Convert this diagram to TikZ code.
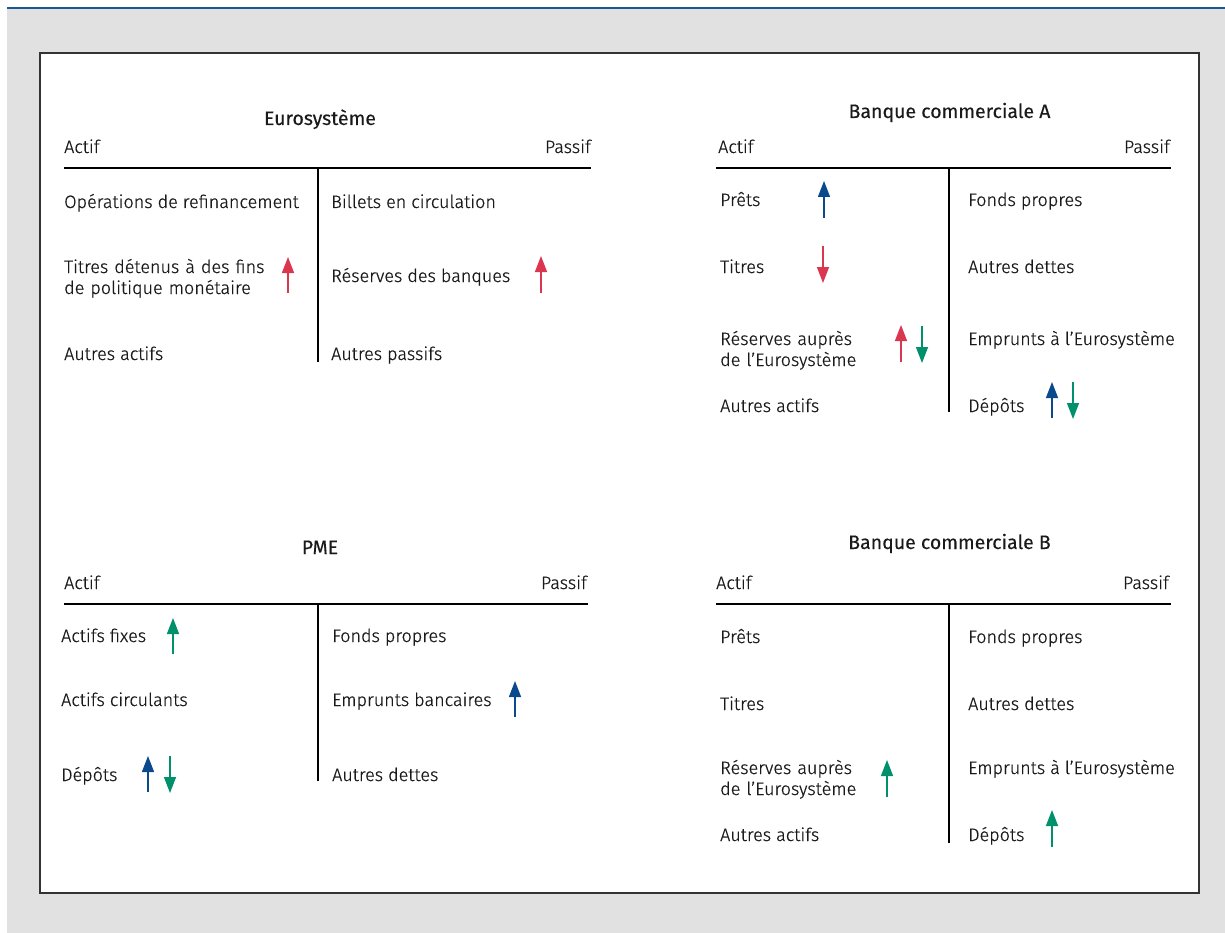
\documentclass[tikz,border=0pt]{standalone}
\usepackage{fontspec}
\setmainfont{Fira Sans Light}[UprightFeatures={FakeBold=0.6}, BoldFont={Fira Sans}, BoldFeatures={FakeBold=0.2}]
\usetikzlibrary{arrows.meta}
\definecolor{bg}{HTML}{E1E1E1}
\definecolor{topblue}{HTML}{1B5797}
\definecolor{ink}{HTML}{1A1A1A}
\definecolor{frame}{HTML}{333333}
\definecolor{ablue}{HTML}{0A4A8C}
\definecolor{ared}{HTML}{DB3650}
\definecolor{agreen}{HTML}{00906B}
\tikzset{
  txt/.style={inner sep=0pt, font=\fontsize{18}{21}\selectfont, text=ink, anchor=base west},
  txtr/.style={txt, anchor=base east},
  ttl/.style={inner sep=0pt, font=\fontsize{19.5}{23}\selectfont\bfseries, text=ink, anchor=base},
  two/.style={txt, align=left, text width=220pt},
  rule/.style={draw=black, line width=1.4pt},
  arr/.style={line width=1.4pt, -{Triangle[width=12pt,length=16pt]}},
}
\begin{document}
\begin{tikzpicture}[x=1pt,y=-1pt]
\useasboundingbox (0,0) rectangle (1225,933);
\fill[bg] (7,9) rectangle (1225,933);
\draw[topblue, line width=2.4pt] (7,8) -- (1225,8);
\draw[frame, fill=white, line width=1.6pt] (40,53) rectangle (1199,893);

% ---------- Eurosysteme ----------
\node[ttl] (eT) at (320,125) {Eurosystème};
\node[txt] (eA) at (64,153) {Actif};
\node[txtr] (eP) at (591,153) {Passif};
\coordinate (eH1) at (64,168); \coordinate (eH2) at (591,168);
\coordinate (eV1) at (318,168); \coordinate (eV2) at (318,362);
\draw[rule] (eH1) -- (eH2);
\draw[rule] (eV1) -- (eV2);
\node[txt] (eL1) at (64,208) {Opérations de refinancement};
\node[two] (eL2) at (64,273) {Titres détenus à des fins\\de politique monétaire};
\node[txt] (eL3) at (64,360) {Autres actifs};
\node[txt] (eR1) at (331,208) {Billets en circulation};
\node[txt] (eR2) at (331,282) {Réserves des banques};
\node[txt] (eR3) at (331,360) {Autres passifs};
\draw[arr, ared] (288,293) -- (288,257);
\draw[arr, ared] (541,293) -- (541,256);

% ---------- Banque commerciale A ----------
\node[ttl] (aT) at (949.5,118) {Banque commerciale A};
\node[txt] (aA) at (718,153) {Actif};
\node[txtr] (aP) at (1170,153) {Passif};
\coordinate (aH1) at (716,168); \coordinate (aH2) at (1171,168);
\coordinate (aV1) at (949,168); \coordinate (aV2) at (949,412);
\draw[rule] (aH1) -- (aH2);
\draw[rule] (aV1) -- (aV2);
\node[txt] (aL1) at (720,206) {Prêts};
\node[txt] (aL2) at (720,273) {Titres};
\node[two] (aL3) at (720,345) {Réserves auprès\\de l’Eurosystème};
\node[txt] (aL4) at (720,412) {Autres actifs};
\node[txt] (aR1) at (968,206) {Fonds propres};
\node[txt] (aR2) at (968,273) {Autres dettes};
\node[txt] (aR3) at (968,345) {Emprunts à l’Eurosystème};
\node[txt] (aR4) at (968,412) {Dépôts};
\draw[arr, ablue] (824,218) -- (824,181);
\draw[arr, ared] (823,246) -- (823,283);
\draw[arr, ared] (901,362) -- (901,325);
\draw[arr, agreen] (922,326) -- (922,363);
\draw[arr, ablue] (1052,418) -- (1052,382);
\draw[arr, agreen] (1073,382) -- (1073,419);

% ---------- PME ----------
\node[ttl] (pT) at (320,554) {PME};
\node[txt] (pA) at (64,589) {Actif};
\node[txtr] (pP) at (587,589) {Passif};
\coordinate (pH1) at (64,604); \coordinate (pH2) at (588,604);
\coordinate (pV1) at (318,604); \coordinate (pV2) at (318,781);
\draw[rule] (pH1) -- (pH2);
\draw[rule] (pV1) -- (pV2);
\node[txt] (pL1) at (61,642) {Actifs fixes};
\node[txt] (pL2) at (61,706) {Actifs circulants};
\node[txt] (pL3) at (61,781) {Dépôts};
\node[txt] (pR1) at (332,642) {Fonds propres};
\node[txt] (pR2) at (332,706) {Emprunts bancaires};
\node[txt] (pR3) at (332,781) {Autres dettes};
\draw[arr, agreen] (173,654) -- (173,618);
\draw[arr, ablue] (515,717) -- (515,681);
\draw[arr, ablue] (148,792) -- (148,756);
\draw[arr, agreen] (170,756) -- (170,793);

% ---------- Banque commerciale B ----------
\node[ttl] (bT) at (949.5,549) {Banque commerciale B};
\node[txt] (bA) at (716,589) {Actif};
\node[txtr] (bP) at (1169,589) {Passif};
\coordinate (bH1) at (716,604); \coordinate (bH2) at (1171,604);
\coordinate (bV1) at (949,604); \coordinate (bV2) at (949,843);
\draw[rule] (bH1) -- (bH2);
\draw[rule] (bV1) -- (bV2);
\node[txt] (bL1) at (720,643) {Prêts};
\node[txt] (bL2) at (720,710) {Titres};
\node[two] (bL3) at (720,774) {Réserves auprès\\de l’Eurosystème};
\node[txt] (bL4) at (720,841) {Autres actifs};
\node[txt] (bR1) at (968,643) {Fonds propres};
\node[txt] (bR2) at (968,710) {Autres dettes};
\node[txt] (bR3) at (968,774) {Emprunts à l’Eurosystème};
\node[txt] (bR4) at (968,841) {Dépôts};
\draw[arr, agreen] (887,797) -- (887,760);
\draw[arr, agreen] (1052,847) -- (1052,810);
\end{tikzpicture}
\end{document}
